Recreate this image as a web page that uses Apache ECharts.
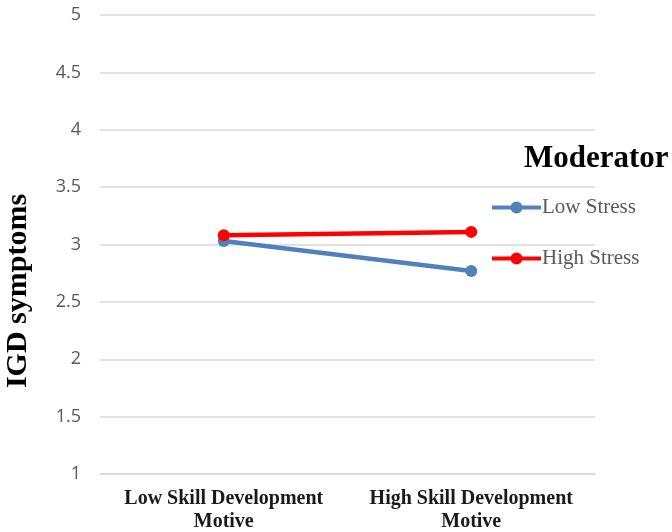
<!DOCTYPE html>
<html>
<head>
<meta charset="utf-8">
<script src="https://cdn.jsdelivr.net/npm/echarts@6/dist/echarts.min.js"></script>
<style>
  html, body { margin: 0; padding: 0; background: #fff; }
  #chart { width: 672px; height: 532px; }
</style>
</head>
<body>
<div id="chart"></div>
<script>
// Simple slopes: IGD symptoms by skill development motive, moderated by stress
const categories = ['Low Skill Development\nMotive', 'High Skill Development\nMotive'];
const lowStress = [3.03, 2.77];
const highStress = [3.08, 3.11];
const seriesNames = ['Low Stress', 'High Stress'];
const yTicks = { min: 1, max: 5, interval: 0.5 };

const serif = '"Liberation Serif", "Times New Roman", serif';
const sans = '"Open Sans", "Liberation Sans", sans-serif';
const blue = '#4f81bd';
const red = '#ff0000';

const chart = echarts.init(document.getElementById('chart'));
chart.setOption({
  animation: false,
  backgroundColor: '#ffffff',
  title: {
    text: 'Moderator',
    left: 524,
    top: 143,
    padding: 0,
    textStyle: { fontFamily: serif, fontWeight: 'bold', fontSize: 31, color: '#000' }
  },
  legend: {
    orient: 'vertical',
    left: 490,
    top: 197,
    padding: 0,
    itemWidth: 49,
    itemHeight: 15,
    itemGap: 30,
    data: seriesNames,
    lineStyle: { width: 4 },
    textStyle: { fontFamily: serif, fontSize: 21, color: '#595959', padding: [0, 0, 0, -4] }
  },
  graphic: [{
    type: 'text',
    x: 18,
    y: 291,
    rotation: Math.PI / 2,
    style: {
      text: 'IGD symptoms',
      fontFamily: serif, fontWeight: 'bold', fontSize: 30, fill: '#000',
      align: 'center', verticalAlign: 'middle'
    }
  }],
  grid: { left: 100, right: 77, top: 15, bottom: 58, containLabel: false, outerBoundsMode: 'none' },
  xAxis: {
    type: 'category',
    data: categories,
    boundaryGap: true,
    axisLine: { show: true, lineStyle: { color: '#d9d9d9', width: 1.5 } },
    axisTick: { show: false },
    axisLabel: {
      fontFamily: serif, fontWeight: 'bold', fontSize: 20, color: '#1a1a1a',
      lineHeight: 23, margin: 13, interval: 0
    }
  },
  yAxis: {
    type: 'value',
    min: yTicks.min,
    max: yTicks.max,
    interval: yTicks.interval,
    axisLine: { show: false },
    axisTick: { show: false },
    splitLine: { lineStyle: { color: '#d9d9d9', width: 1.5 } },
    axisLabel: { fontFamily: sans, fontSize: 18, color: '#595959', margin: 19 }
  },
  series: [
    {
      name: seriesNames[0],
      type: 'line',
      data: lowStress,
      symbol: 'circle',
      symbolSize: 12,
      lineStyle: { width: 4.5, color: blue },
      itemStyle: { color: blue }
    },
    {
      name: seriesNames[1],
      type: 'line',
      data: highStress,
      symbol: 'circle',
      symbolSize: 12,
      lineStyle: { width: 4.5, color: red },
      itemStyle: { color: red }
    }
  ]
});
</script>
</body>
</html>
